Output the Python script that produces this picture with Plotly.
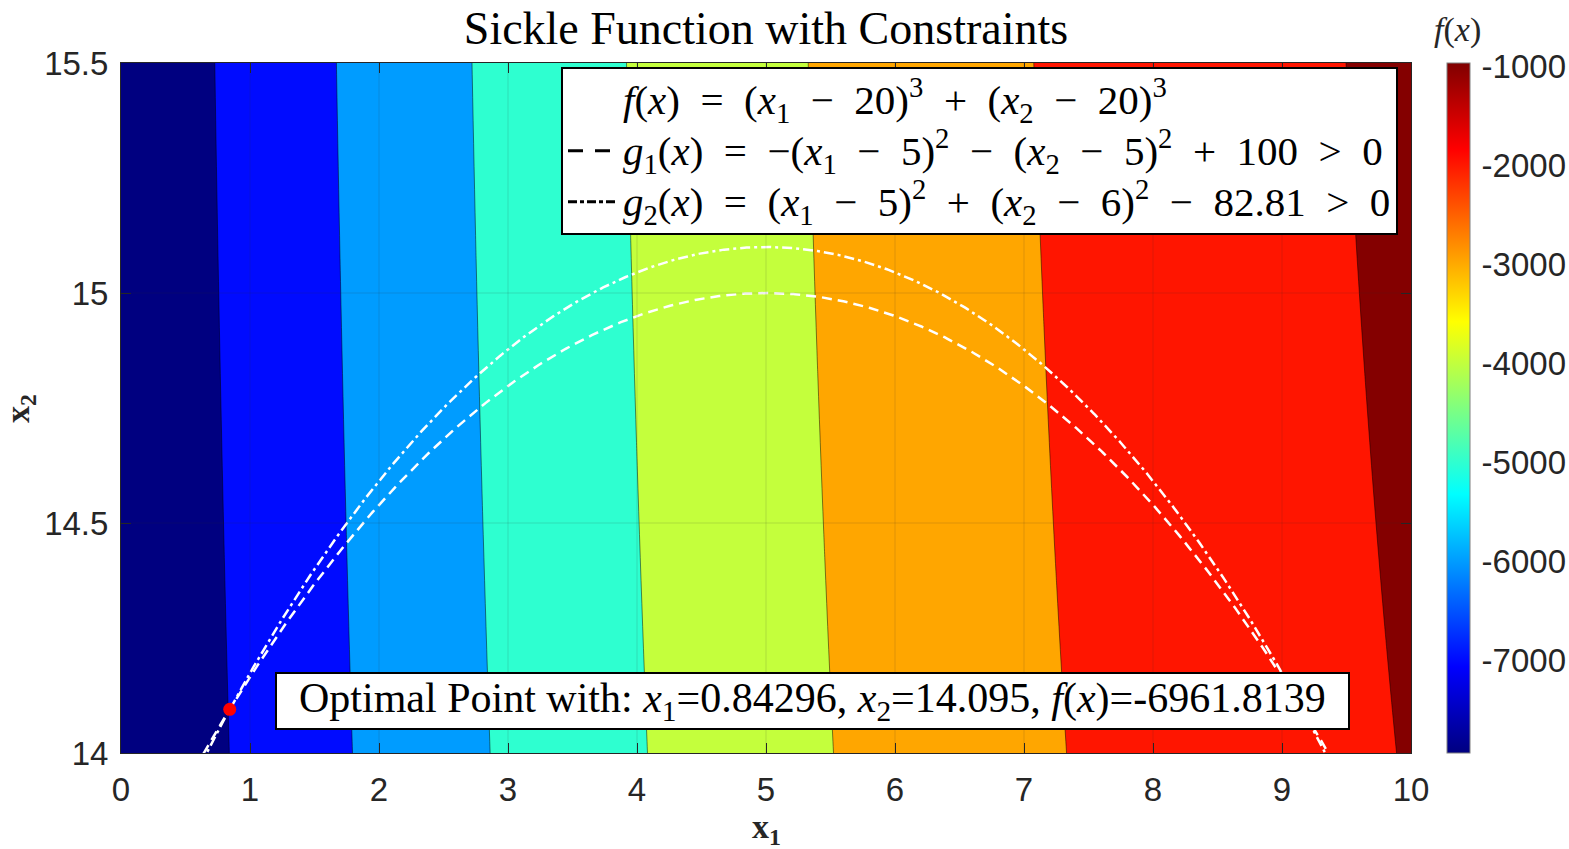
import numpy as np
import plotly.graph_objects as go

# ---- axis ticks -------------------------------------------------------
x1_ticks = [0, 1, 2, 3, 4, 5, 6, 7, 8, 9, 10]
x2_ticks = [14, 14.5, 15, 15.5]
x2_tick_text = ["14", "14.5", "15", "15.5"]
x1_range = [0, 10]
x2_range = [14, 15.5]

# ---- colour bar -------------------------------------------------------
cbar_ticks = [-7000, -6000, -5000, -4000, -3000, -2000, -1000]
cbar_tick_text = ["-7000", "-6000", "-5000", "-4000", "-3000", "-2000", "-1000"]
cbar_range = [-7936, -970]

# ---- objective f(x) = (x1 - 20)^3 + (x2 - 20)^3 -------------------------
f_shift = 20
f_power = 3
level_start = -7250
level_end = -1250
level_step = 1000
band_colors = ["#000080", "#000bff", "#009cff", "#2effd0",
               "#c4ff3c", "#ffa600", "#ff1500", "#840000"]

# ---- constraints --------------------------------------------------------
g1_c1, g1_c2, g1_r2 = 5, 5, 100       # -(x1-5)^2 - (x2-5)^2 + 100 > 0
g2_c1, g2_c2, g2_r2 = 5, 6, 82.81     # (x1-5)^2 + (x2-6)^2 - 82.81 > 0

# ---- optimum -----------------------------------------------------------
opt_x1 = 0.84296
opt_x2 = 14.095
opt_f = -6961.8139

# MATLAB-style jet colormap
jet = [[0.0, "rgb(0,0,128)"], [0.125, "rgb(0,0,255)"], [0.375, "rgb(0,255,255)"],
       [0.625, "rgb(255,255,0)"], [0.875, "rgb(255,0,0)"], [1.0, "rgb(128,0,0)"]]

# grid for the filled contour
gx1 = np.linspace(x1_range[0], x1_range[1], 201)
gx2 = np.linspace(x2_range[0], x2_range[1], 61)
X1, X2 = np.meshgrid(gx1, gx2)
Z = (X1 - f_shift) ** f_power + (X2 - f_shift) ** f_power

n_levels = int(round((level_end - level_start) / level_step)) + 1
band_scale = [[j / n_levels, c] for j, c in enumerate(band_colors)]

# constraint boundaries
cx = np.linspace(x1_range[0], x1_range[1], 801)
g1_x2 = g1_c2 + np.sqrt(np.clip(g1_r2 - (cx - g1_c1) ** 2, 0, None))
g2_x2 = g2_c2 + np.sqrt(np.clip(g2_r2 - (cx - g2_c1) ** 2, 0, None))

SERIF = "Liberation Serif, Times New Roman, serif"
SANS = "Liberation Sans, Arial, sans-serif"
INK = "#262626"
SP = "\u2002"   # en space used around math operators


def op(sym):
    return SP + sym + SP


def big(txt):
    # legend glyphs larger than the row pitch implied by the legend font
    return '<span style="font-size:41px">' + txt + "</span>"


fig = go.Figure()

fig.add_trace(go.Contour(
    x=gx1, y=gx2, z=Z,
    autocontour=False,
    contours=dict(start=level_start, end=level_end, size=level_step, coloring="fill"),
    colorscale=band_scale,
    line=dict(color="rgba(0,0,0,0.8)", width=0.6),
    showscale=False, showlegend=False, hoverinfo="skip",
))

fig.add_trace(go.Scatter(
    x=cx, y=g1_x2, mode="lines", showlegend=False, hoverinfo="skip",
    line=dict(color="white", width=2.5, dash="10px,6px"),
))
fig.add_trace(go.Scatter(
    x=cx, y=g2_x2, mode="lines", showlegend=False, hoverinfo="skip",
    line=dict(color="white", width=2.5, dash="10px,4px,3px,4px"),
))

# legend entries
fig.add_trace(go.Scatter(
    x=[None], y=[None], mode="lines",
    line=dict(color="rgba(0,0,0,0)", width=2.5),
    name=big("<i>f</i>(<i>x</i>)" + op("=") + "(<i>x</i><sub>1</sub>" + op("−")
             + "20)<sup>3</sup>" + op("+") + "(<i>x</i><sub>2</sub>" + op("−")
             + "20)<sup>3</sup>"),
))
fig.add_trace(go.Scatter(
    x=[None], y=[None], mode="lines",
    line=dict(color="black", width=3, dash="15px,12px"),
    name=big("<i>g</i><sub>1</sub>(<i>x</i>)" + op("=") + "−(<i>x</i><sub>1</sub>" + op("−")
             + "5)<sup>2</sup>" + op("−") + "(<i>x</i><sub>2</sub>" + op("−")
             + "5)<sup>2</sup>" + op("+") + "100" + op("&gt;") + "0"),
))
fig.add_trace(go.Scatter(
    x=[None], y=[None], mode="lines",
    line=dict(color="black", width=3, dash="9px,3px,4px,3px"),
    name=big("<i>g</i><sub>2</sub>(<i>x</i>)" + op("=") + "(<i>x</i><sub>1</sub>" + op("−")
             + "5)<sup>2</sup>" + op("+") + "(<i>x</i><sub>2</sub>" + op("−")
             + "6)<sup>2</sup>" + op("−") + "82.81" + op("&gt;") + "0"),
))

# optimum marker
fig.add_trace(go.Scatter(
    x=[opt_x1], y=[opt_x2], mode="markers", showlegend=False, hoverinfo="skip",
    marker=dict(color="#ff0000", size=13, line=dict(width=0)),
))

# continuous colour bar
fig.add_trace(go.Scatter(
    x=[None], y=[None], mode="markers", showlegend=False, hoverinfo="skip",
    marker=dict(
        color=cbar_range, cmin=cbar_range[0], cmax=cbar_range[1],
        colorscale=jet, showscale=True,
        colorbar=dict(
            x=(1447 - 121) / 1290, xanchor="left", xpad=0, y=0.5, yanchor="middle", ypad=0,
            thickness=23, len=690, lenmode="pixels",
            outlinecolor="#808080", outlinewidth=1,
            tickvals=cbar_ticks, ticktext=cbar_tick_text,
            ticks="outside", ticklen=5, tickcolor="rgba(0,0,0,0)",
            tickfont=dict(family=SANS, size=33, color=INK),
        ),
    ),
))

# grid lines drawn over the filled contours
shapes = []
for t in x1_ticks[1:-1]:
    shapes.append(dict(type="line", xref="x", yref="y domain", x0=t, x1=t, y0=0, y1=1,
                       line=dict(color="rgba(38,38,38,0.15)", width=1), layer="above"))
for t in x2_ticks[1:-1]:
    shapes.append(dict(type="line", xref="x domain", yref="y", x0=0, x1=1, y0=t, y1=t,
                       line=dict(color="rgba(38,38,38,0.15)", width=1), layer="above"))

pad = "&#160;&#160;"
annotations = [
    dict(text=pad + "Optimal Point with: <i>x</i><sub>1</sub>=%.5f, <i>x</i><sub>2</sub>=%.3f, "
              "<i>f</i>(<i>x</i>)=%.4f" % (opt_x1, opt_x2, opt_f) + pad,
         xref="paper", yref="paper", x=(812 - 121) / 1290, y=(753 - 701) / 690,
         xanchor="center", yanchor="middle",
         showarrow=False, font=dict(family=SERIF, size=42, color="black"),
         bgcolor="white", bordercolor="black", borderwidth=2, borderpad=1),
    dict(text="<i>f</i>(<i>x</i>)", xref="paper", yref="paper",
         x=(1457 - 121) / 1290, y=(753 - 30) / 690, xanchor="center", yanchor="middle",
         showarrow=False, font=dict(family=SERIF, size=34, color=INK)),
    dict(text="<b>x</b><sub><b>1</b></sub>", xref="paper", yref="paper",
         x=0.5, y=(753 - 829) / 690, xanchor="center", yanchor="middle",
         showarrow=False, font=dict(family=SERIF, size=34, color=INK)),
    dict(text="<b>x</b><sub><b>2</b></sub>", xref="paper", yref="paper",
         x=(20 - 121) / 1290, y=0.5, xanchor="center", yanchor="middle", textangle=-90,
         showarrow=False, font=dict(family=SERIF, size=34, color=INK)),
]

axis_common = dict(
    showgrid=False, zeroline=False, showline=True, linecolor=INK, linewidth=1,
    mirror="ticks", ticks="inside", ticklen=10, tickcolor=INK, tickwidth=1,
    tickfont=dict(family=SANS, size=33, color=INK),
)

fig.update_layout(
    width=1569, height=849,
    margin=dict(l=121, r=158, t=63, b=96, autoexpand=False),
    paper_bgcolor="white", plot_bgcolor="white",
    title=dict(text="Sickle Function with Constraints", x=0.5, xref="paper",
               y=1 - 28 / 849, yref="container", xanchor="center", yanchor="middle",
               font=dict(family=SERIF, size=46, color="black")),
    xaxis=dict(range=x1_range, tickvals=x1_ticks, ticklabelstandoff=7, **axis_common),
    yaxis=dict(range=x2_range, tickvals=x2_ticks, ticktext=x2_tick_text,
               ticklabelstandoff=5, **axis_common),
    legend=dict(x=(1398 - 121) / 1290, y=1 - 4 / 690, xanchor="right", yanchor="top",
                bgcolor="white", bordercolor="black", borderwidth=2,
                font=dict(family=SERIF, size=37, color="black"),
                itemwidth=50, tracegroupgap=0),
    shapes=shapes,
    annotations=annotations,
    showlegend=True,
)

fig.write_html("out.html")
